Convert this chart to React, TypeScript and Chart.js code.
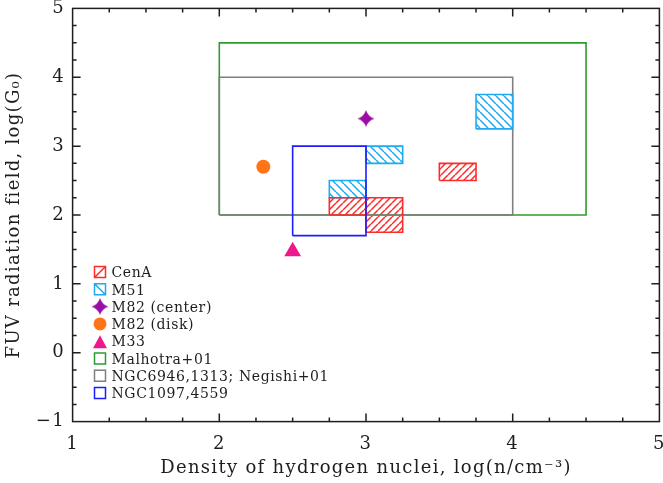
import React, { useEffect, useRef } from 'react';
import { Chart, registerables } from 'chart.js';

Chart.register(...registerables);

// ---- data ----
const xRange = [1, 5];
const yRange = [-1, 5];
// boxes: [xMin, xMax, yMin, yMax]
const malhotraBox = [2, 4.5, 2, 4.5];
const negishiBox = [2, 4, 2, 4];
const ngc1097Box = [2.5, 3, 1.7, 3];
const cenABoxes = [
  [2.75, 3, 2, 2.25],
  [3, 3.25, 1.75, 2.25],
  [3.5, 3.75, 2.5, 2.75],
];
const m51Boxes = [
  [2.75, 3, 2.25, 2.5],
  [3, 3.25, 2.75, 3],
  [3.75, 4, 3.25, 3.75],
];
const m82Center = [{ x: 3, y: 3.4 }];
const m82Disk = [{ x: 2.3, y: 2.7 }];
const m33 = [{ x: 2.5, y: 1.47 }];
const legendLabels = [
  'CenA',
  'M51',
  'M82 (center)',
  'M82 (disk)',
  'M33',
  'Malhotra+01',
  'NGC6946,1313; Negishi+01',
  'NGC1097,4559',
];

const RED = '#ff2a2a';
const CYAN = '#1eaaf0';
const PURPLE = '#9a0ea6';
const ORANGE = '#ff7417';
const PINK = '#f0168c';
const GREEN = '#2f9a2f';
const GRAY = '#7f7f7f';
const BLUE = '#1c1cff';
const INK = '#1e1e1e';
const FONT = '"DejaVu Serif", serif';

function makeHatch(color: string, s: number, dir: 'up' | 'down') {
  const c = document.createElement('canvas');
  c.width = s;
  c.height = s;
  const g = c.getContext('2d')!;
  g.strokeStyle = color;
  g.lineWidth = 1.5;
  g.beginPath();
  for (let k = -1; k <= 1; k++) {
    if (dir === 'up') {
      g.moveTo(k * s, s);
      g.lineTo(k * s + s, 0);
    } else {
      g.moveTo(k * s, 0);
      g.lineTo(k * s + s, s);
    }
  }
  g.stroke();
  return c;
}

function makeStar(color: string) {
  const c = document.createElement('canvas');
  c.width = 18;
  c.height = 18;
  const g = c.getContext('2d')!;
  const m = 9, R = 8.5, k = 2.0;
  g.fillStyle = color;
  g.beginPath();
  g.moveTo(m, m - R);
  g.quadraticCurveTo(m + k, m - k, m + R, m);
  g.quadraticCurveTo(m + k, m + k, m, m + R);
  g.quadraticCurveTo(m - k, m + k, m - R, m);
  g.quadraticCurveTo(m - k, m - k, m, m - R);
  g.fill();
  return c;
}

function boxOutline(b: number[]) {
  return [
    { x: b[0], y: b[2] },
    { x: b[0], y: b[3] },
    { x: b[1], y: b[3] },
    { x: b[1], y: b[2] },
    { x: b[0], y: b[2] },
  ];
}

export default function App() {
  const ref = useRef<HTMLCanvasElement>(null);

  useEffect(() => {
    const canvas = ref.current!;
    const ctx = canvas.getContext('2d')!;
    const redPat = ctx.createPattern(makeHatch(RED, 7, 'up'), 'repeat')!;
    const cyanPat = ctx.createPattern(makeHatch(CYAN, 8, 'down'), 'repeat')!;
    const star = makeStar(PURPLE);

    const outline = (label: string, b: number[], color: string) => ({
      type: 'line' as const,
      label,
      data: boxOutline(b),
      borderColor: color,
      borderWidth: 1.6,
      pointRadius: 0,
      fill: false,
      tension: 0,
      borderJoinStyle: 'miter' as const,
    });
    const hatchFill = (label: string, b: number[], pat: CanvasPattern) => ({
      type: 'line' as const,
      label,
      data: [
        { x: b[0], y: b[3] },
        { x: b[1], y: b[3] },
      ],
      borderColor: 'rgba(0,0,0,0)',
      borderWidth: 1,
      pointRadius: 0,
      backgroundColor: pat,
      fill: { value: b[2] },
    });

    const datasets: any[] = [
      { label: 'M82 (center)', data: m82Center, showLine: false, pointStyle: star, pointRadius: 9 },
      { label: 'M82 (disk)', data: m82Disk, showLine: false, pointStyle: 'circle', pointRadius: 7, backgroundColor: ORANGE, borderWidth: 0, borderColor: ORANGE },
      { label: 'M33', data: m33, showLine: false, pointStyle: 'triangle', pointRadius: 9.7, backgroundColor: PINK, borderWidth: 0, borderColor: PINK },
      outline('NGC1097,4559', ngc1097Box, BLUE),
      ...cenABoxes.map((b) => outline('CenA', b, RED)),
      ...m51Boxes.map((b) => outline('M51', b, CYAN)),
      outline('NGC6946,1313; Negishi+01', negishiBox, GRAY),
      outline('Malhotra+01', malhotraBox, GREEN),
      ...cenABoxes.map((b) => hatchFill('CenA', b, redPat)),
      ...m51Boxes.map((b) => hatchFill('M51', b, cyanPat)),
    ];

    const framePlugin = {
      id: 'frame',
      beforeDraw(chart: any) {
        chart.ctx.letterSpacing = '1.3px';
      },
      afterDraw(chart: any) {
        const c = chart.ctx;
        const { left, right, top, bottom } = chart.chartArea;
        const xs = chart.scales.x;
        const ys = chart.scales.y;
        c.save();
        c.letterSpacing = '0px';
        c.strokeStyle = INK;
        c.lineWidth = 1.5;
        c.strokeRect(left, top, right - left, bottom - top);
        c.beginPath();
        const step = 0.25;
        for (let v = xs.min + step; v < xs.max - 1e-6; v += step) {
          const major = Math.abs(v - Math.round(v)) < 1e-6;
          const L = major ? 8 : 4;
          const px = xs.getPixelForValue(v);
          c.moveTo(px, bottom);
          c.lineTo(px, bottom - L);
          c.moveTo(px, top);
          c.lineTo(px, top + L);
        }
        for (let v = ys.min + step; v < ys.max - 1e-6; v += step) {
          const major = Math.abs(v - Math.round(v)) < 1e-6;
          const L = major ? 8 : 4;
          const py = ys.getPixelForValue(v);
          c.moveTo(left, py);
          c.lineTo(left + L, py);
          c.moveTo(right, py);
          c.lineTo(right - L, py);
        }
        c.stroke();

        // legend
        const ix = 100;
        const y0 = 272;
        const dy = 17.3;
        const tx = 111.5;
        legendLabels.forEach((lab, i) => {
          const cy = y0 + i * dy;
          c.lineWidth = 1.5;
          if (i === 0 || i === 1 || i >= 5) {
            const col = i === 0 ? RED : i === 1 ? CYAN : i === 5 ? GREEN : i === 6 ? GRAY : BLUE;
            c.strokeStyle = col;
            c.beginPath();
            c.rect(ix - 5.5, cy - 5.5, 11, 11);
            if (i === 0) {
              c.moveTo(ix - 5.5, cy + 5.5);
              c.lineTo(ix + 5.5, cy - 5.5);
            } else if (i === 1) {
              c.moveTo(ix - 5.5, cy - 5.5);
              c.lineTo(ix + 5.5, cy + 5.5);
            }
            c.stroke();
          } else if (i === 2) {
            c.drawImage(star, ix - 9, cy - 9);
          } else if (i === 3) {
            c.fillStyle = ORANGE;
            c.beginPath();
            c.arc(ix, cy, 6.5, 0, Math.PI * 2);
            c.fill();
          } else if (i === 4) {
            c.fillStyle = PINK;
            c.beginPath();
            c.moveTo(ix, cy - 6);
            c.lineTo(ix + 7, cy + 7);
            c.lineTo(ix - 7, cy + 7);
            c.closePath();
            c.fill();
          }
          c.fillStyle = INK;
          c.font = '14px ' + FONT;
          c.letterSpacing = '0.6px';
          c.textAlign = 'left';
          c.textBaseline = 'alphabetic';
          c.fillText(lab, tx, cy + 5.2);
        });
        c.restore();
      },
    };

    const chart = new Chart(canvas, {
      type: 'line',
      data: { datasets },
      options: {
        animation: false,
        responsive: false,
        maintainAspectRatio: false,
        events: [],
        layout: { autoPadding: false, padding: { top: 8.4, right: 3.6, left: 0, bottom: 0 } },
        plugins: { legend: { display: false }, tooltip: { enabled: false } },
        scales: {
          x: {
            type: 'linear',
            min: xRange[0],
            max: xRange[1],
            grid: { display: false, drawTicks: false },
            border: { display: false },
            ticks: { stepSize: 1, font: { family: FONT, size: 18 }, color: INK, padding: 12, maxRotation: 0, autoSkip: false },
            title: {
              display: true,
              text: 'Density of hydrogen nuclei, log(n/cm\u207B\u00B3)',
              font: { family: FONT, size: 18 },
              color: INK,
              padding: { top: 0, bottom: 4.2 },
            },
            afterFit: (s: any) => {
              s.height = 61.4;
              s.paddingLeft = 0;
              s.paddingRight = 0;
            },
          },
          y: {
            type: 'linear',
            min: yRange[0],
            max: yRange[1],
            grid: { display: false, drawTicks: false },
            border: { display: false },
            ticks: {
              stepSize: 1,
              font: { family: FONT, size: 18 },
              color: INK,
              padding: 7.6,
              callback: (v: any) => (v < 0 ? '\u2212' + Math.abs(v) : String(v)),
            },
            title: {
              display: true,
              text: 'FUV radiation field, log(G\u2080)',
              font: { family: FONT, size: 18 },
              color: INK,
              padding: { top: 3.2, bottom: 0 },
            },
            afterFit: (s: any) => {
              s.width = 72.6;
              s.paddingTop = 0;
              s.paddingBottom = 0;
            },
          },
        },
      } as any,
      plugins: [framePlugin],
    });
    return () => chart.destroy();
  }, []);

  return (
    <div style={{ position: 'absolute', left: 0, top: 0, width: 663, height: 483 }}>
      <canvas ref={ref} width={663} height={483} style={{ display: 'block' }} />
    </div>
  );
}
